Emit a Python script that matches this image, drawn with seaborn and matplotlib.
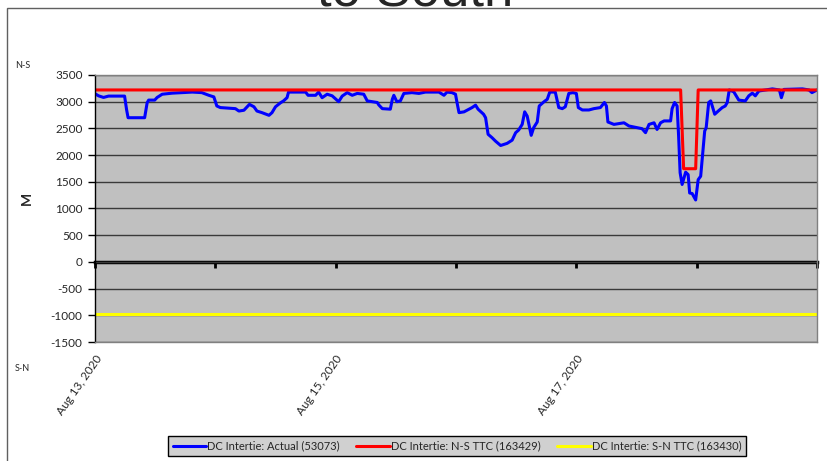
import matplotlib
matplotlib.use("Agg")
import numpy as np
import pandas as pd
import seaborn as sns
import matplotlib.pyplot as plt
import matplotlib.dates as mdates
from matplotlib.patches import Rectangle

# ---------------- data ----------------
start_time = pd.Timestamp("2020-08-13 00:00")
series_names = ["DC Intertie: Actual (53073)",
                "DC Intertie: N-S TTC (163429)",
                "DC Intertie: S-N TTC (163430)"]

actual_hours = [0, 0.7, 1.7, 2.7, 5.9, 6.3, 6.6, 9.9, 10.4, 10.7, 11.9, 12.4, 13.4, 15.4,
                17.4, 19.4, 21.3, 22.7, 23.7, 24.3, 25, 28, 28.7, 29.7, 30.8, 31.7, 32.3,
                33.3, 34.7, 35.3, 36, 37, 37.6, 38.3, 38.6, 42, 42.5, 44, 44.6, 45.3, 46.3,
                47.3, 48.6, 49.3, 50.3, 51.3, 52.3, 53.6, 54.3, 55.3, 56.3, 56.6, 57.3, 58.9,
                59.3, 59.6, 60.2, 60.9, 61.6, 63.2, 64.6, 65.9, 68.6, 69.6, 70.2, 71.2, 71.9,
                72.2, 72.6, 73.6, 74.3, 75.2, 75.9, 76.4, 77.5, 77.9, 78.4, 79.2, 79.9, 80.9,
                82.2, 83.2, 83.9, 84.5, 85.2, 85.7, 86.2, 87, 87.5, 88.2, 88.6, 89.5, 90.2,
                90.7, 91.8, 92.5, 93.2, 93.8, 94.5, 95.3, 96, 96.4, 97.2, 98.5, 99.5, 100.8,
                101.6, 102, 102.3, 103.5, 105.5, 106.5, 108.1, 109.1, 109.8, 110.5, 111.5,
                112.1, 112.8, 113.5, 114.8, 115.1, 115.6, 116.1, 116.4, 116.7, 117.1, 117.8,
                118.3, 118.6, 119.1, 119.8, 120.3, 120.8, 121.1, 121.6, 121.9, 122.4, 122.8,
                123.6, 124.3, 125.1, 125.7, 126.1, 126.5, 127.4, 128.4, 129.7, 130.4, 131.1,
                131.7, 132.4, 135.1, 136.5, 136.9, 137.4, 141.1, 142.4, 143.0, 144]
actual_mw = [3150, 3110, 3080, 3105, 3105, 2850, 2700, 2700, 2980, 3030, 3030, 3080, 3140, 3160,
             3170, 3180, 3170, 3120, 3090, 2920, 2890, 2870, 2825, 2840, 2950, 2905, 2825,
             2795, 2745, 2795, 2905, 2980, 3015, 3075, 3180, 3180, 3120, 3120, 3180, 3075, 3140,
             3110, 3000, 3105, 3170, 3120, 3155, 3140, 3015, 3000, 2985, 2940, 2870, 2860,
             3045, 3120, 3000, 3015, 3155, 3170, 3155, 3180, 3180, 3120, 3180, 3170, 3140,
             2985, 2795, 2810, 2845, 2890, 2935, 2860, 2765, 2700, 2390, 2325, 2260, 2180,
             2220, 2280, 2420, 2470, 2575, 2810, 2730, 2370, 2515, 2620, 2920, 2995, 3045,
             3180, 3180, 2890, 2870, 2905, 3155, 3170, 3155, 2890, 2845, 2845, 2870, 2890,
             2985, 2920, 2620, 2575, 2605, 2545, 2515, 2495, 2420, 2575, 2605,
             2480, 2605, 2640, 2640, 2870, 2985, 2920, 2355, 1670, 1450, 1680,
             1635, 1290, 1280, 1160, 1540, 1605, 1920, 2450, 2515, 2985, 3015,
             2765, 2825, 2890, 2920, 2985, 3220, 3185, 3030, 3015, 3110, 3160,
             3110, 3200, 3240, 3220, 3075, 3230, 3240, 3220, 3170, 3220]

ttc_ns_hours = [0, 116.8, 117.4, 119.8, 120.3, 144]
ttc_ns_mw = [3220, 3220, 1745, 1745, 3220, 3220]

ttc_sn_hours = [0, 144]
ttc_sn_mw = [-975, -975]

y_ticks = [-1500, -1000, -500, 0, 500, 1000, 1500, 2000, 2500, 3000, 3500]
day_ticks = ["2020-08-13", "2020-08-14", "2020-08-15", "2020-08-16",
             "2020-08-17", "2020-08-18", "2020-08-19"]
x_label_days = ["2020-08-13", "2020-08-15", "2020-08-17"]
x_labels = ["Aug 13, 2020", "Aug 15, 2020", "Aug 17, 2020"]

# ---------------- figure ----------------
sns.set_style("white")
plt.rcParams["font.family"] = ["Lato", "DejaVu Sans"]

W, H = 828, 461
fig = plt.figure(figsize=(W / 100, H / 100), dpi=100)
ax = fig.add_axes([95 / W, 1 - 342 / H, 722 / W, 267 / H])
ax.set_facecolor("#c0c0c0")

def to_time(hours):
    return start_time + pd.to_timedelta(np.asarray(hours, dtype=float), unit="h")

sns.lineplot(x=to_time(actual_hours), y=actual_mw, ax=ax, color="#0000ff",
             lw=2.2, label=series_names[0])
sns.lineplot(x=to_time(ttc_ns_hours), y=ttc_ns_mw, ax=ax, color="#ff0000",
             lw=2.2, label=series_names[1])
sns.lineplot(x=to_time(ttc_sn_hours), y=ttc_sn_mw, ax=ax, color="#ffff00",
             lw=2.2, label=series_names[2])

ymin, ymax = y_ticks[0], y_ticks[-1]
ax.set_ylim(ymin, ymax)
ax.set_xlim(pd.Timestamp(day_ticks[0]), pd.Timestamp(day_ticks[-1]))
ax.set_yticks(y_ticks)
ax.set_yticklabels([str(v) for v in y_ticks], fontsize=8.5)
ax.grid(axis="y", color="#3a3a3a", lw=1)
ax.grid(axis="x", visible=False)
ax.set_axisbelow(True)
ax.tick_params(axis="y", left=True, direction="out", length=5, width=1,
               color="black", pad=4)

ax.set_xticks([pd.Timestamp(d) for d in x_label_days])
ax.set_xticklabels(x_labels, rotation=55, ha="right", va="top",
                   rotation_mode="anchor", fontsize=8.5)
ax.tick_params(axis="x", bottom=True, length=0, pad=8)
ax.set_xlabel("")
ax.set_ylabel("")

for side in ["top", "right", "bottom"]:
    ax.spines[side].set_color("#808080")
    ax.spines[side].set_linewidth(1)
ax.spines["left"].set_color("black")
ax.spines["left"].set_linewidth(1)

# zero axis with day ticks
zero_frac = (0 - ymin) / (ymax - ymin)
sec = ax.secondary_xaxis(zero_frac)
sec.set_xticks([mdates.date2num(pd.Timestamp(d)) for d in day_ticks])
sec.tick_params(axis="x", bottom=True, top=False, direction="out", length=4,
                width=2, color="black", labelbottom=False, labeltop=False)
for s in sec.spines.values():
    s.set_linewidth(2.5)
    s.set_color("black")

# legend
handles, labels = ax.get_legend_handles_labels()
ax.get_legend().remove()
leg = fig.legend(handles, labels, loc="center", bbox_to_anchor=(457 / W, 1 - 446 / H),
                 ncol=3, frameon=True, fancybox=False, edgecolor="black",
                 facecolor="#d0d0d0", framealpha=1, fontsize=8, handlelength=3.0,
                 handletextpad=0.1, columnspacing=1.5, borderpad=0.4)
leg.get_frame().set_linewidth(1)

# text
fig.text(15 / W, 1 - 65 / H, "N-S", fontsize=6.5, va="center", ha="left")
fig.text(15 / W, 1 - 368 / H, "S-N", fontsize=6.5, va="center", ha="left")
fig.text(27 / W, 1 - 198 / H, "M", rotation=90, fontweight="bold", fontsize=10,
         ha="center", va="center")
fig.text(415 / W, 1 - 6 / H, "to South", ha="center", va="baseline", fontsize=38,
         family=["Liberation Sans", "DejaVu Sans"])

fig.add_artist(Rectangle((7 / W, -0.05), 1.0, 1 - 8 / H + 0.05,
                         transform=fig.transFigure, fill=False,
                         edgecolor="#606060", lw=1))

fig.savefig("out.png", dpi=100)
